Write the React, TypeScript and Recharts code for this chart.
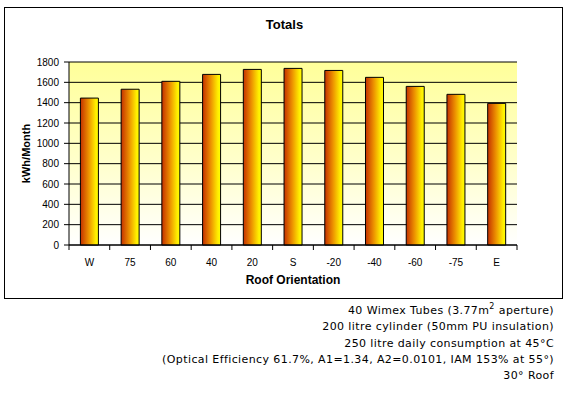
import { BarChart, Bar, XAxis, YAxis, CartesianGrid, Label } from 'recharts';

const orientations = ['W', '75', '60', '40', '20', 'S', '-20', '-40', '-60', '-75', 'E'];
const totals = [1445, 1532, 1610, 1678, 1727, 1737, 1717, 1649, 1560, 1482, 1393];
const yTicks = [0, 200, 400, 600, 800, 1000, 1200, 1400, 1600, 1800];
const notes = [
  '200 litre cylinder (50mm PU insulation)',
  '250 litre daily consumption at 45°C',
  '(Optical Efficiency 61.7%, A1=1.34, A2=0.0101, IAM 153% at 55°)',
  '30° Roof',
];

const FONT = '"Liberation Sans", Arial, sans-serif';
const NOTE_FONT = '"DejaVu Sans", Verdana, sans-serif';
const CHART_W = 569;
const CHART_H = 300;
const MARGIN = { top: 62, right: 52, left: 0, bottom: 0 };
const Y_AXIS_W = 69;

const data = orientations.map((o, i) => ({ name: o, total: totals[i] }));

// category axis with tick marks between the bars, like Excel
const OrientationTick = (props: any) => {
  const { x, y, payload, index, visibleTicksCount } = props;
  const plotW = CHART_W - MARGIN.left - MARGIN.right - Y_AXIS_W;
  const half = payload?.offset || plotW / orientations.length / 2;
  const last = index === (visibleTicksCount ?? orientations.length) - 1;
  return (
    <g>
      <line x1={x - half} x2={x - half} y1={y} y2={y + 5} stroke="#000" />
      {last && <line x1={x + half} x2={x + half} y1={y} y2={y + 5} stroke="#000" />}
      <text x={x} y={y + 17} textAnchor="middle" dominantBaseline="central" fontSize={10} fontFamily={FONT} fill="#000">
        {payload.value}
      </text>
    </g>
  );
};

export default function App() {
  return (
    <div style={{ position: 'absolute', left: 0, top: 0, width: 569, height: 395, background: '#fff', fontFamily: FONT }}>
      <div style={{ position: 'absolute', left: 4, top: 7, width: 557, height: 290, border: '1px solid #000' }} />
      <div style={{ position: 'absolute', left: 0, top: 17, width: 569, textAlign: 'center', fontWeight: 'bold', fontSize: 13, lineHeight: '16px' }}>
        Totals
      </div>
      <div style={{ position: 'absolute', left: 0, top: 0 }}>
        <BarChart width={CHART_W} height={CHART_H} data={data} margin={MARGIN} barCategoryGap="28%">
          <defs>
            <linearGradient id="plotBg" x1="0" y1="0" x2="0" y2="1">
              <stop offset="0%" stopColor="#ffff99" />
              <stop offset="55%" stopColor="#ffffcc" />
              <stop offset="100%" stopColor="#ffffff" />
            </linearGradient>
            <linearGradient id="barFill" x1="0" y1="0" x2="1" y2="0">
              <stop offset="0%" stopColor="#c43000" />
              <stop offset="45%" stopColor="#ec9000" />
              <stop offset="85%" stopColor="#ffee00" />
              <stop offset="100%" stopColor="#ffff00" />
            </linearGradient>
          </defs>
          <CartesianGrid vertical={false} stroke="#000" fill="url(#plotBg)" />
          <XAxis
            dataKey="name"
            height={55}
            stroke="#000"
            tickLine={false}
            tickSize={0}
            tickMargin={0}
            interval={0}
            tick={<OrientationTick />}
          >
            <Label value="Roof Orientation" position="center" dy={7} fontSize={12} fontWeight="bold" fontFamily={FONT} fill="#000" />
          </XAxis>
          <YAxis
            width={Y_AXIS_W}
            domain={[0, 1800]}
            ticks={yTicks}
            interval={0}
            stroke="#000"
            tickSize={5}
            tickMargin={5}
            tick={{ fontSize: 10, fontFamily: FONT, fill: '#000' }}
          >
            <Label value="kWh/Month" angle={-90} position="center" dx={-8} fontSize={11} fontWeight="bold" fontFamily={FONT} fill="#000" />
          </YAxis>
          <YAxis yAxisId="edge" orientation="right" width={0} tick={false} tickLine={false} stroke="#000" />
          <Bar dataKey="total" fill="url(#barFill)" stroke="#000" strokeWidth={1} isAnimationActive={false} />
        </BarChart>
      </div>
      <div style={{ position: 'absolute', right: 15, top: 303, textAlign: 'right', fontSize: 11, lineHeight: '16.25px', letterSpacing: '0.4px', color: '#000', fontFamily: NOTE_FONT }}>
        <div>
          40 Wimex Tubes (3.77m<sup style={{ fontSize: 8, lineHeight: 0 }}>2</sup> aperture)
        </div>
        {notes.map((n) => (
          <div key={n}>{n}</div>
        ))}
      </div>
    </div>
  );
}
